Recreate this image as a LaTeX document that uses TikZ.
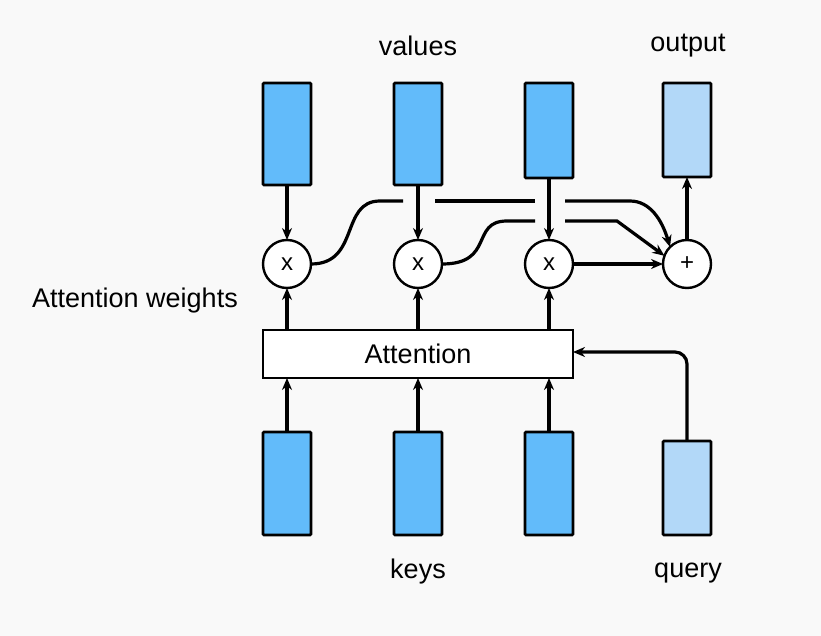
\documentclass[tikz,border=0pt]{standalone}
\usepackage{fontspec}
\setmainfont{Liberation Sans}
\usetikzlibrary{arrows.meta}
\definecolor{vblue}{HTML}{62BBFA}
\definecolor{qblue}{HTML}{B2D8F8}
\definecolor{bg}{HTML}{F9F9F9}
\begin{document}
\begin{tikzpicture}[x=1pt,y=-1pt,
  line width=3.2pt,
  vec/.style={draw=black, line width=2.8pt, minimum width=48pt, inner sep=0pt, outer sep=0pt, rounded corners=1pt},
  circ/.style={draw=black, fill=white, circle, line width=2.4pt, minimum size=48pt, inner sep=0pt, outer sep=0pt, font=\fontsize{24}{28}\selectfont},
  lbl/.style={font=\fontsize{27}{32}\selectfont, inner sep=0pt},
  arr/.style={line width=3.2pt, -{Stealth[length=12pt,width=10pt]}},
  plain/.style={line width=3.2pt}
]
\fill[bg] (0,0) rectangle (821,636);
\useasboundingbox (0,0) rectangle (821,636);
% top value boxes
\node[vec, fill=vblue, minimum height=102pt] (v1) at (287,134) {};
\node[vec, fill=vblue, minimum height=102pt] (v2) at (418,134) {};
\node[vec, fill=vblue, minimum height=95pt] (v3) at (549,130.5) {};
\node[vec, fill=qblue, minimum height=94pt] (out) at (687,130) {};
% bottom key boxes
\node[vec, fill=vblue, minimum height=103pt] (k1) at (287,483.5) {};
\node[vec, fill=vblue, minimum height=103pt] (k2) at (418,483.5) {};
\node[vec, fill=vblue, minimum height=103pt] (k3) at (549,483.5) {};
\node[vec, fill=qblue, minimum height=94pt] (q) at (687,488) {};
% attention box
\node[draw=black, line width=2.8pt, fill=white, minimum width=310pt, minimum height=48pt, inner sep=0pt, outer sep=0pt, lbl] (att) at (418,354) {Attention};
% circles
\node[circ] (m1) at (287,264) {x};
\node[circ] (m2) at (418,264) {x};
\node[circ] (m3) at (549,264) {x};
\node[circ] (s) at (687,264) {+};
% labels
\node[lbl] (lv) at (418,46) {values};
\node[lbl] (lo) at (688,46) {output};
\node[lbl] (lw) at (135,301) {Attention weights};
\node[lbl] (lk) at (418,572) {keys};
\node[lbl] (lq) at (688,573) {query};
% arrows values -> multipliers
\draw[arr] (v1.south) -- (m1.north);
\draw[arr] (v2.south) -- (m2.north);
\draw[arr] (v3.south) -- (m3.north);
% attention -> multipliers
\draw[arr] (att.north -| m1) -- (m1.south);
\draw[arr] (att.north -| m2) -- (m2.south);
\draw[arr] (att.north -| m3) -- (m3.south);
% keys -> attention
\draw[arr] (k1.north) -- (att.south -| k1);
\draw[arr] (k2.north) -- (att.south -| k2);
\draw[arr] (k3.north) -- (att.south -| k3);
% query -> attention
\coordinate (qc) at (687,352);
\draw[arr, rounded corners=12pt] (q.north) -- (qc) -- (att.east |- qc);
% sum -> output
\draw[arr] (s.north) -- (out.south);
% m3 -> sum
\draw[arr] (m3.east) -- (s.west);
% m1 -> sum (upper path with gaps)
\coordinate (a1) at (403,201);
\coordinate (a2) at (435,201);
\coordinate (a3) at (535,201);
\coordinate (a4) at (565,201);
\coordinate (a5) at (630,201);
\draw[plain] (m1.east) .. controls (360,264) and (340,201) .. (380,201) -- (a1);
\draw[plain] (a2) -- (a3);
\draw[arr] (a4) -- (a5) .. controls (650,201) and (662,220) .. (s.north west);
% m2 -> sum (lower path with gaps)
\coordinate (b1) at (535,221);
\coordinate (b2) at (565,221);
\coordinate (b3) at (617,221);
\draw[plain] (m2.east) .. controls (495,264) and (470,221) .. (507,221) -- (b1);
\draw[arr] (b2) -- (b3) -- (s.160);
\end{tikzpicture}
\end{document}
